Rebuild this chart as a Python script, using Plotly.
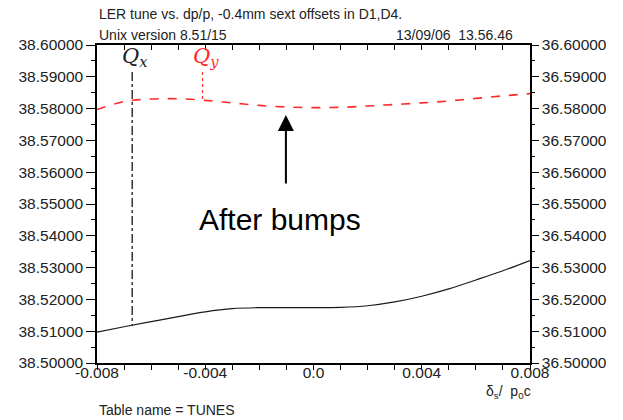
import plotly.graph_objects as go

# ---- data ----
dp = [-0.008, -0.007, -0.006, -0.005, -0.004, -0.003, -0.002, -0.001, 0.0,
      0.001, 0.002, 0.003, 0.004, 0.005, 0.006, 0.007, 0.008]
qx = [38.5097, 38.5114, 38.5130, 38.5146, 38.5161, 38.5171, 38.5174, 38.5174, 38.5174,
      38.5175, 38.5180, 38.5192, 38.5210, 38.5233, 38.5261, 38.5290, 38.5322]
qy = [38.5797, 38.5822, 38.5830, 38.5831, 38.5826, 38.5818, 38.5810, 38.5805, 38.5803,
      38.5804, 38.5808, 38.5813, 38.5818, 38.5824, 38.5832, 38.5840, 38.5847]

qx_marker_x = [-0.0067, -0.0067]
qx_marker_y = [38.5915, 38.5118]
qy_marker_x = [-0.0041, -0.0041]
qy_marker_y = [38.5915, 38.5826]

x_tickvals = [-0.008, -0.004, 0.0, 0.004, 0.008]
x_ticktext = ["-0.008", "-0.004", "0.0", "0.004", "0.008"]
y_tickvals = [38.50, 38.51, 38.52, 38.53, 38.54, 38.55, 38.56, 38.57, 38.58, 38.59, 38.60]
y_left_text = ["38.%05d" % round((v - 38) * 100000) for v in y_tickvals]
y_right_text = ["36.%05d" % round((v - 38) * 100000) for v in y_tickvals]

FONT = "Liberation Sans, Arial, sans-serif"
RED = "#ff2a2a"
TXT = "#222222"

fig = go.Figure()

fig.add_trace(go.Scatter(x=dp, y=qy, mode="lines", line=dict(color=RED, width=1.6, dash="dash", shape="spline"),
                         hoverinfo="skip", showlegend=False))
fig.add_trace(go.Scatter(x=dp, y=qx, mode="lines", line=dict(color="#1a1a1a", width=1.2, shape="spline"),
                         hoverinfo="skip", showlegend=False))
fig.add_trace(go.Scatter(x=qx_marker_x, y=qx_marker_y, mode="lines",
                         line=dict(color="black", width=1.2, dash="dashdot"), hoverinfo="skip", showlegend=False))
fig.add_trace(go.Scatter(x=qy_marker_x, y=qy_marker_y, mode="lines",
                         line=dict(color=RED, width=1.2, dash="dot"), hoverinfo="skip", showlegend=False))
# invisible trace to bring up the secondary (top/right) axes
fig.add_trace(go.Scatter(x=dp, y=qx, xaxis="x2", yaxis="y2", mode="lines", opacity=0,
                         hoverinfo="skip", showlegend=False))

axis_common = dict(showgrid=False, zeroline=False, showline=True, linecolor="black", linewidth=1.5,
                   tickcolor="black", tickfont=dict(family=FONT, size=15.5, color=TXT))

fig.update_layout(
    width=623, height=420,
    margin=dict(l=97, r=93, t=45, b=57),
    paper_bgcolor="white", plot_bgcolor="white",
    xaxis=dict(range=[-0.008, 0.008], tickvals=x_tickvals, ticktext=x_ticktext,
               ticks="outside", ticklen=5, tickwidth=1.2, ticklabelstandoff=-10,
               minor=dict(dtick=0.001, tick0=0, ticks="outside", ticklen=5, tickcolor="black"),
               **axis_common),
    xaxis2=dict(range=[-0.008, 0.008], overlaying="x", side="top", showticklabels=False,
                ticks="inside", dtick=0.001, tick0=0, ticklen=5, tickwidth=1.2,
                showgrid=False, zeroline=False, showline=True, linecolor="black", linewidth=1.5,
                tickcolor="black"),
    yaxis=dict(range=[38.50, 38.60], tickvals=y_tickvals, ticktext=y_left_text,
               ticks="outside", ticklen=9, tickwidth=1.2,
               minor=dict(dtick=0.005, tick0=38.5, ticks="outside", ticklen=4, tickcolor="black"),
               **axis_common),
    yaxis2=dict(range=[38.50, 38.60], overlaying="y", side="right", tickvals=y_tickvals, ticktext=y_right_text,
                ticks="outside", ticklen=7, tickwidth=1.2,
                minor=dict(dtick=0.005, tick0=38.5, ticks="outside", ticklen=3, tickcolor="black"),
                **axis_common),
)

ann = []
ann.append(dict(text="LER tune vs. dp/p, -0.4mm sext offsets in D1,D4.", xref="paper", yref="paper",
                x=0.0, y=1.097, xanchor="left", yanchor="middle", showarrow=False,
                font=dict(family=FONT, size=14, color=TXT)))
ann.append(dict(text="Unix version 8.51/15", xref="paper", yref="paper",
                x=0.0, y=1.0, xanchor="left", yanchor="bottom", showarrow=False,
                font=dict(family=FONT, size=14, color=TXT)))
ann.append(dict(text="13/09/06  13.56.46", xref="paper", yref="paper",
                x=0.965, y=1.0, xanchor="right", yanchor="bottom", showarrow=False,
                font=dict(family=FONT, size=14, color=TXT)))
ann.append(dict(text="Table name = TUNES", xref="paper", yref="paper",
                x=0.0, y=-0.148, xanchor="left", yanchor="middle", showarrow=False,
                font=dict(family=FONT, size=14, color=TXT)))
ann.append(dict(text="δ<sub>s</sub>/  p<sub>0</sub>c", xref="paper", yref="paper",
                x=0.951, y=-0.092, xanchor="center", yanchor="middle", showarrow=False,
                font=dict(family=FONT, size=14, color=TXT)))
ann.append(dict(text="<i>Q</i><sub><i>x</i></sub>", x=qx_marker_x[0], y=qx_marker_y[0], xref="x", yref="y",
                xanchor="center", yanchor="bottom", showarrow=False, xshift=3,
                font=dict(family="DejaVu Serif, serif", size=21, color="#222222")))
ann.append(dict(text="<i>Q</i><sub><i>y</i></sub>", x=qy_marker_x[0], y=qy_marker_y[0], xref="x", yref="y",
                xanchor="center", yanchor="bottom", showarrow=False, xshift=3,
                font=dict(family="DejaVu Serif, serif", size=21, color=RED)))
ann.append(dict(text="After bumps", x=-0.00124, y=38.545, xref="x", yref="y",
                xanchor="center", yanchor="middle", showarrow=False,
                font=dict(family=FONT, size=30, color="black")))
ann.append(dict(text="", x=-0.00102, y=38.578, xref="x", yref="y", showarrow=True,
                ax=0, ay=70, arrowhead=2, arrowsize=1.6, arrowwidth=2, arrowcolor="black"))
fig.update_layout(annotations=ann)

fig.write_html("out.html")
